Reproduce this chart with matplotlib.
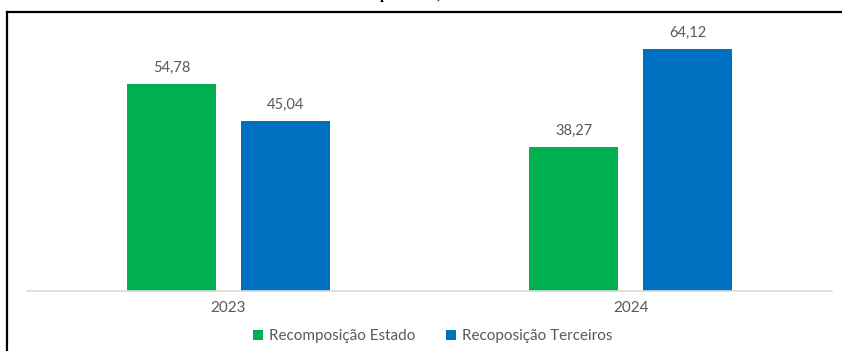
import numpy as np
import matplotlib.pyplot as plt
from matplotlib.lines import Line2D

plt.rcParams['font.family'] = ['Lato', 'DejaVu Sans']

anos = ['2023', '2024']
estado = [54.78, 38.27]
terceiros = [45.04, 64.12]
series = ['Recomposição Estado', 'Recoposição Terceiros']

verde = '#00b050'
azul = '#0070c0'
cinza = '#595959'

fig = plt.figure(figsize=(8.42, 3.51), dpi=100)
ax = fig.add_axes([27 / 842, 1 - 291 / 351, 805 / 842, 264 / 351])

x = np.arange(len(anos))
w = 0.221
off = 0.1414
b1 = ax.bar(x - off, estado, w, color=verde, label=series[0])
b2 = ax.bar(x + off, terceiros, w, color=azul, label=series[1])

for bars, vals in ((b1, estado), (b2, terceiros)):
    for r, v in zip(bars, vals):
        ax.annotate(f'{v:.2f}'.replace('.', ','),
                    (r.get_x() + r.get_width() / 2, v),
                    xytext=(0, 6.5), textcoords='offset points',
                    ha='center', va='bottom', fontsize=10.5, color=cinza)

ax.set_xlim(-0.5, 1.5)
ax.set_ylim(0, 70)
ax.set_yticks([])
ax.set_xticks(x)
ax.set_xticklabels(anos, fontsize=11, color=cinza)
ax.tick_params(axis='x', length=0, pad=7)
for s in ['top', 'right', 'left']:
    ax.spines[s].set_visible(False)
ax.spines['bottom'].set_color('#d9d9d9')
ax.spines['bottom'].set_linewidth(1.2)

fig.legend(handles=[b1, b2], labels=series, loc='center',
           bbox_to_anchor=(433 / 842, 1 - 336 / 351), ncol=2, frameon=False,
           fontsize=11, labelcolor=cinza, handlelength=0.65, handleheight=0.65,
           handletextpad=0.4, columnspacing=2.0)

# moldura da figura
fig.add_artist(Line2D([7 / 842, 1], [1 - 12 / 351, 1 - 12 / 351],
                      transform=fig.transFigure, color='black', lw=1.6))
fig.add_artist(Line2D([7 / 842, 7 / 842], [0, 1 - 12 / 351],
                      transform=fig.transFigure, color='black', lw=1.6))

# título cortado no topo
fig.text(353 / 842, 1 + 0.5 / 351, 'Tempo médio, em dias', ha='left',
         va='baseline', fontsize=10.5, fontweight='bold',
         family='Liberation Serif', color='black')

fig.savefig('out.png', dpi=100)
